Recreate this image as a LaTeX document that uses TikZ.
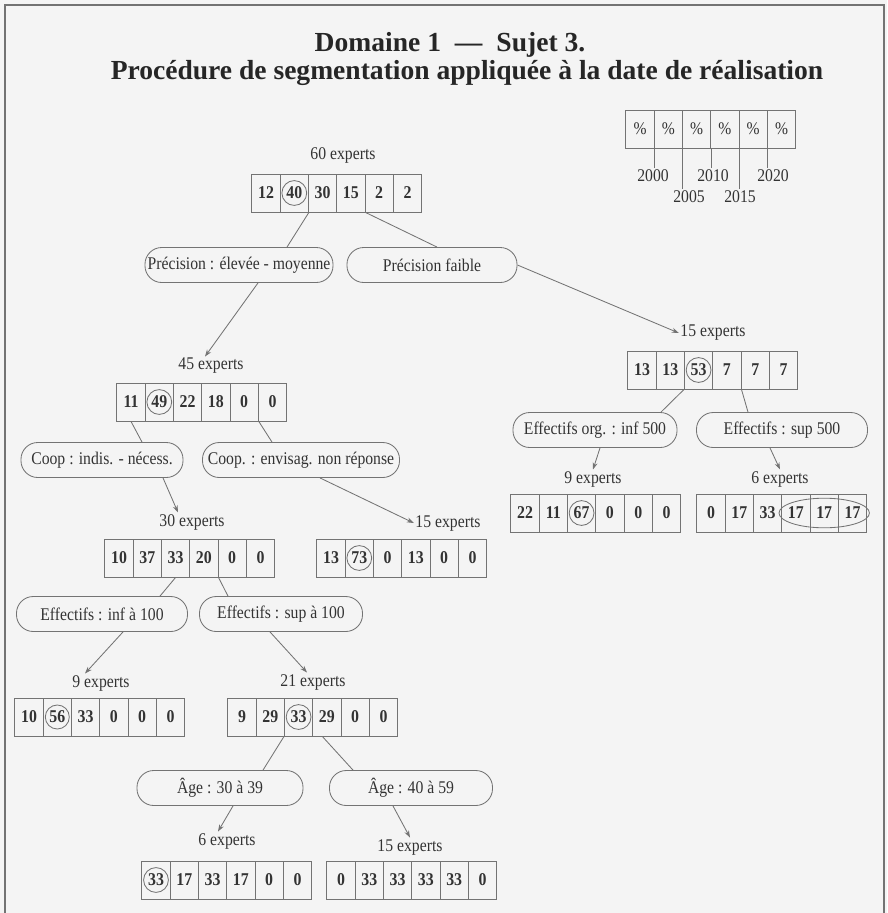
\documentclass[tikz,border=0pt]{standalone}
\usepackage{fontspec}
\setmainfont{Liberation Serif}
\newfontfamily\narrowserif[FakeStretch=0.88]{Liberation Serif}
\usetikzlibrary{arrows.meta}

\definecolor{ink}{rgb}{0.2 0.2 0.2}
\definecolor{rule}{rgb}{0.45 0.45 0.45}
\definecolor{paper}{rgb}{0.955 0.955 0.955}

\tikzset{
  cell/.style={draw=rule,line width=0.6pt,minimum width=0.7075cm,minimum height=0.95cm,
    inner sep=0pt,text=ink,font=\narrowserif\bfseries\fontsize{12.8}{13}\selectfont},
  legend/.style={cell,font=\narrowserif\fontsize{12.6}{13}\selectfont},
  pill/.style={draw=rule,line width=0.6pt,rounded corners=0.42cm,minimum height=0.875cm,
    inner sep=0pt,text=ink,font=\narrowserif\fontsize{12.7}{13}\selectfont},
  count/.style={text=ink,inner sep=1pt,font=\narrowserif\fontsize{12.7}{13}\selectfont},
  heading/.style={text=black!85,inner sep=0pt,font=\bfseries\fontsize{19.6}{22}\selectfont},
  link/.style={draw=rule,line width=0.6pt},
  arrowlink/.style={link,-{Stealth[length=5pt,width=3.5pt]}},
  hilite/.style={draw=rule,line width=0.6pt}
}

% one row of six percentages, cells named #2 1..6
\newcommand{\scorerow}[5][cell]{%
  \foreach \v [count=\i] in {#5}
    \node[#1] (#2\i) at ({#3+(\i-1)*28.3},#4) {\v};}

\begin{document}
\begin{tikzpicture}[x=0.025cm,y=-0.025cm]
\fill[paper] (0,0) rectangle (887,913);
\useasboundingbox (0,0) rectangle (887,913);
\draw[rule,line width=1pt] (5,913) -- (5,5) -- (884,5) -- (884,913);

% title
\node[heading] (t1) at (450,45) {Domaine 1\hspace{5pt} --- \hspace{5pt}Sujet 3.};
\node[heading] (t2) at (467,73) {Procédure de segmentation appliquée à la date de réalisation};

% legend
\scorerow[legend]{L}{640}{129}{\%,\%,\%,\%,\%,\%}
\node[count] (y2000) at (653,176) {2000};
\node[count] (y2005) at (689,197) {2005};
\node[count] (y2010) at (713,176) {2010};
\node[count] (y2015) at (740,197) {2015};
\node[count] (y2020) at (773,176) {2020};
\draw[link] (L1.south east) -- (L1.south east |- y2000.north);
\draw[link] (L2.south east) -- (L2.south east |- y2005.north);
\draw[link] (L3.south east) -- (L3.south east |- y2010.north);
\draw[link] (L4.south east) -- (L4.south east |- y2015.north);
\draw[link] (L5.south east) -- (L5.south east |- y2020.north);

% level 0
\node[count] (lA) at (343,155) {60 experts};
\scorerow{A}{266}{193}{12,40,30,15,2,2}
\draw[hilite] (A2.center) circle (0.31cm);
\node[pill,minimum width=4.7cm] (pA1) at (239,265) {Précision : élevée - moyenne};
\node[pill,minimum width=4.25cm] (pA2) at (432,265) {Précision faible};
\draw[link] (A2.south east) -- ([xshift=1.2cm]pA1.north);
\draw[link] (A4.south east) -- ([xshift=0.125cm]pA2.north);

% precision faible
\node[count] (lC) at (713,333) {15 experts};
\scorerow{C}{642}{370}{13,13,53,7,7,7}
\draw[hilite] (C3.center) circle (0.31cm);
\draw[arrowlink] (pA2.east) -- (lC.west);
\node[pill,minimum width=4.1cm] (pC1) at (595,430) {Effectifs org. : inf 500};
\node[pill,minimum width=4.275cm] (pC2) at (782,430) {Effectifs : sup 500};
\draw[link] (C3.south west) -- ([xshift=1.65cm]pC1.north);
\draw[link] (C4.south east) -- ([xshift=-0.85cm]pC2.north);
\node[count] (lD) at (593,479) {9 experts};
\scorerow{D}{525}{513}{22,11,67,0,0,0}
\draw[hilite] (D3.center) circle (0.31cm);
\node[count] (lE) at (780,479) {6 experts};
\scorerow{E}{711}{513}{0,17,33,17,17,17}
\draw[hilite] (E5.center) ellipse [x radius=1.13cm, y radius=0.37cm];
\draw[arrowlink] ([xshift=0.125cm]pC1.south) -- (lD.north);
\draw[arrowlink] ([xshift=-0.3cm]pC2.south) -- (lE.north);

% precision elevee - moyenne
\node[count] (lB) at (211,366) {45 experts};
\scorerow{B}{131}{402}{11,49,22,18,0,0}
\draw[hilite] (B2.center) circle (0.31cm);
\draw[arrowlink] ([xshift=0.475cm]pA1.south) -- ([xshift=-0.15cm]lB.north);
\node[pill,minimum width=4.05cm] (pB1) at (102,460) {Coop : indis. - nécess.};
\node[pill,minimum width=4.925cm] (pB2) at (301,460) {Coop. : envisag. non réponse};
\draw[link] (B1.south) -- ([xshift=1.0cm]pB1.north);
\draw[link] (B5.south east) -- ([xshift=-0.725cm]pB2.north);

% coop : envisag.
\node[count] (lG) at (448,523) {15 experts};
\scorerow{G}{331}{558}{13,73,0,13,0,0}
\draw[hilite] (G2.center) circle (0.31cm);
\draw[arrowlink] ([xshift=0.475cm]pB2.south) -- (lG.west);

% coop : indis. - necess.
\node[count] (lF) at (192,522) {30 experts};
\scorerow{F}{119}{558}{10,37,33,20,0,0}
\draw[arrowlink] ([xshift=1.525cm]pB1.south) -- ([xshift=-0.35cm]lF.north);
\node[pill,minimum width=4.275cm] (pF1) at (102,614) {Effectifs : inf à 100};
\node[pill,minimum width=4.075cm] (pF2) at (281,614) {Effectifs : sup à 100};
\draw[link] (F3.south) -- ([xshift=1.45cm]pF1.north);
\draw[link] (F4.south east) -- ([xshift=-1.325cm]pF2.north);
\node[count] (lH) at (101,683) {9 experts};
\scorerow{H}{29}{717}{10,56,33,0,0,0}
\draw[hilite] (H2.center) circle (0.3cm);
\draw[arrowlink] ([xshift=0.525cm]pF1.south) -- ([xshift=-0.4cm]lH.north);
\node[count] (lI) at (313,682) {21 experts};
\scorerow{I}{242}{717}{9,29,33,29,0,0}
\draw[hilite] (I3.center) circle (0.31cm);
\draw[arrowlink] ([xshift=-0.275cm]pF2.south) -- ([xshift=-0.15cm]lI.north);

% effectifs sup a 100
\node[pill,minimum width=4.15cm] (pI1) at (220,788) {Âge : 30 à 39};
\node[pill,minimum width=4.075cm] (pI2) at (411,788) {Âge : 40 à 59};
\draw[link] (I3.south west) -- ([xshift=1.075cm]pI1.north);
\draw[link] ([xshift=0.25cm]I4.south west) -- ([xshift=-1.45cm]pI2.north);
\node[count] (lJ) at (227,841) {6 experts};
\scorerow{J}{156}{880}{33,17,33,17,0,0}
\draw[hilite] (J1.center) circle (0.31cm);
\node[count] (lK) at (410,847) {15 experts};
\scorerow{K}{341}{880}{0,33,33,33,33,0}
\draw[arrowlink] ([xshift=0.325cm]pI1.south) -- ([xshift=-0.225cm]lJ.north);
\draw[arrowlink] ([xshift=-0.45cm]pI2.south) -- (lK.north);
\end{tikzpicture}
\end{document}
